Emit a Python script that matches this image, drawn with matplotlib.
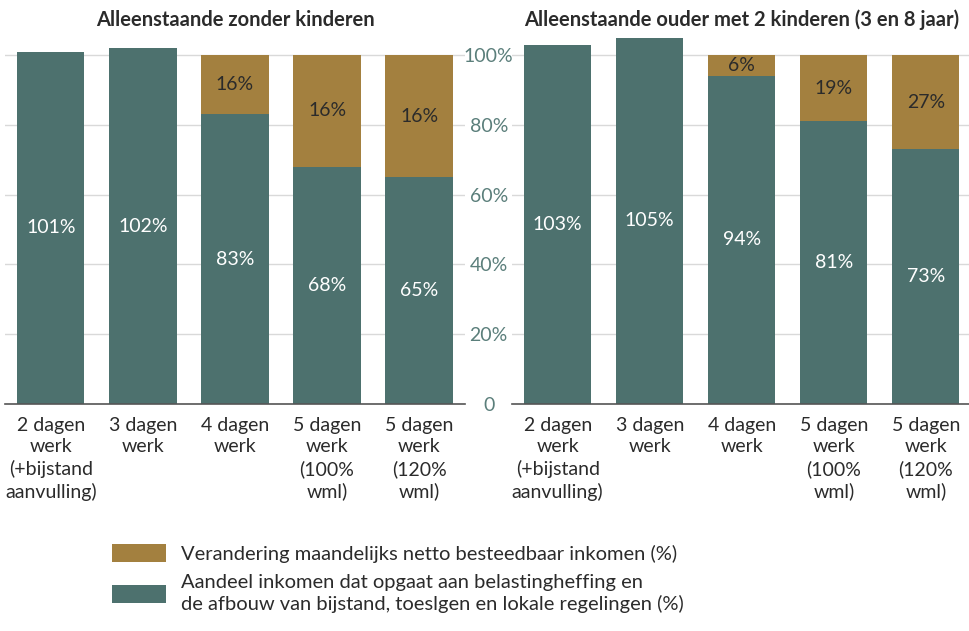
import matplotlib
matplotlib.use('Agg')
from matplotlib import pyplot as plt
from matplotlib.patches import Patch

plt.rcParams['font.family'] = ['Lato', 'DejaVu Sans']

# Data
categories = ['2 dagen\nwerk\n(+bijstand\naanvulling)', '3 dagen\nwerk', '4 dagen\nwerk',
              '5 dagen\nwerk\n(100%\nwml)', '5 dagen\nwerk\n(120%\nwml)']
titles = ['Alleenstaande zonder kinderen', 'Alleenstaande ouder met 2 kinderen (3 en 8 jaar)']
# Aandeel inkomen dat opgaat aan belastingheffing (teal)
share_single = [101, 102, 83, 68, 65]
share_parent = [103, 105, 94, 81, 73]
# Verandering netto besteedbaar inkomen (gold), None = no segment
change_single = [None, None, 16, 16, 16]
change_parent = [None, None, 6, 19, 27]

teal = '#4d716e'
gold = '#a3803f'
grid_color = '#d9d9d9'
text_dark = '#2b2b2b'
tick_teal = '#5b7f7b'

fig = plt.figure(figsize=(9.69, 6.31), dpi=100)
ax_left = fig.add_axes([0.005, 0.3597, 0.475, 0.5863])
ax_right = fig.add_axes([0.528, 0.3597, 0.475, 0.5863])

panels = [(ax_left, share_single, change_single, titles[0]),
          (ax_right, share_parent, change_parent, titles[1])]

for ax, share, change, title in panels:
    xs = range(len(categories))
    ax.bar(xs, share, width=0.73, color=teal, zorder=2)
    for x, s, c in zip(xs, share, change):
        ax.text(x, s / 2, f'{s}%', ha='center', va='center', color='white', fontsize=14, zorder=3)
        if c is not None:
            ax.bar(x, 100 - s, bottom=s, width=0.73, color=gold, zorder=2)
            ax.text(x, (100 + s) / 2, f'{c}%', ha='center', va='center', color=text_dark,
                    fontsize=14, zorder=3)
    ax.set_xlim(-0.5, 4.5)
    ax.set_ylim(0, 106)
    ax.set_yticks([0, 20, 40, 60, 80, 100])
    ax.grid(axis='y', color=grid_color, linewidth=1, zorder=0)
    ax.set_axisbelow(True)
    for side in ['top', 'right', 'left']:
        ax.spines[side].set_visible(False)
    ax.spines['bottom'].set_color('#555555')
    ax.spines['bottom'].set_linewidth(1.2)
    ax.set_xticks(list(xs))
    ax.set_xticklabels(categories, fontsize=14, color=text_dark, linespacing=1.32)
    ax.tick_params(axis='x', length=0, pad=9)
    ax.set_title(title, fontsize=14.5, fontweight='bold', color=text_dark, pad=6)

ax_left.tick_params(axis='y', length=0, labelleft=False)
ax_right.set_yticklabels(['0', '20%', '40%', '60%', '80%', '100%'], fontsize=14, color=tick_teal)
ax_right.tick_params(axis='y', length=0, pad=16.5)
for lbl in ax_right.get_yticklabels():
    lbl.set_horizontalalignment('center')

handles = [Patch(facecolor=gold, edgecolor='none'), Patch(facecolor=teal, edgecolor='none')]
labels = ['Verandering maandelijks netto besteedbaar inkomen (%)',
          'Aandeel inkomen dat opgaat aan belastingheffing en\nde afbouw van bijstand, toeslgen en lokale regelingen (%)']
leg = fig.legend(handles, labels, loc='upper left', bbox_to_anchor=(0.116, 0.138), frameon=False,
                 fontsize=14.5, handlelength=2.65, handleheight=1.0, handletextpad=0.75,
                 labelspacing=0.55, labelcolor=text_dark, borderaxespad=0, borderpad=0)
for t in leg.get_texts():
    t.set_linespacing(1.3)

fig.savefig('out.png', dpi=100)
